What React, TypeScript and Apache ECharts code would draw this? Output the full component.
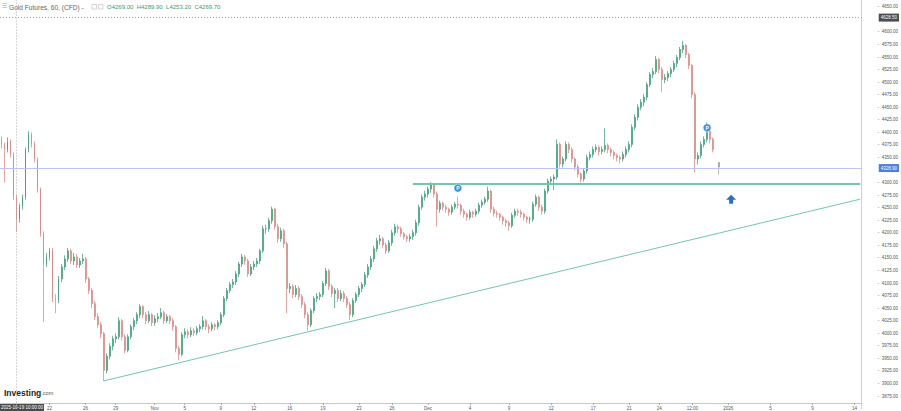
import React, { useEffect, useRef } from "react";
import * as echarts from "echarts";

// ---------- data ----------
const SLOT_COUNT = 287; // compressed trading-time slots shown on the time axis (incl. future space)

// [open, close, low, high]
const candles: number[][] = [
  [4385, 4376, 4368, 4392], [4376, 4366, 4300, 4380], [4366, 4382, 4360, 4390], [4382, 4356, 4350, 4386],
  [4356, 4271, 4265, 4360], [4271, 4227, 4202, 4276], [4227, 4253, 4220, 4258], [4253, 4271, 4246, 4276],
  [4271, 4366, 4266, 4370], [4366, 4396, 4360, 4402], [4396, 4376, 4370, 4400], [4376, 4346, 4340, 4382],
  [4346, 4287, 4280, 4350], [4287, 4198, 4192, 4290], [4198, 4138, 4022, 4203], [4138, 4152, 4132, 4160],
  [4152, 4164, 4145, 4170], [4164, 4069, 4062, 4170], [4069, 4065, 4040, 4078], [4065, 4108, 4060, 4114],
  [4108, 4132, 4102, 4138], [4132, 4148, 4126, 4155], [4148, 4164, 4142, 4170], [4164, 4144, 4138, 4168],
  [4144, 4152, 4136, 4160], [4152, 4136, 4130, 4158], [4136, 4144, 4130, 4150], [4144, 4148, 4138, 4158],
  [4148, 4108, 4100, 4152], [4108, 4085, 4078, 4112], [4085, 4059, 4050, 4090], [4059, 4033, 4026, 4064],
  [4033, 4017, 4010, 4040], [4017, 3999, 3990, 4022], [3999, 3926, 3905, 4003], [3926, 3954, 3920, 3960],
  [3954, 3974, 3948, 3980], [3974, 3989, 3966, 3995], [3989, 3993, 3980, 4000], [3993, 4025, 3988, 4032],
  [4025, 3993, 3986, 4028], [3993, 3966, 3960, 3998], [3966, 3993, 3962, 3998], [3993, 4013, 3988, 4018],
  [4013, 4025, 4006, 4030], [4025, 4037, 4018, 4042], [4037, 4053, 4030, 4058], [4053, 4037, 4030, 4056],
  [4037, 4025, 4018, 4042], [4025, 4037, 4020, 4044], [4037, 4021, 4014, 4040], [4021, 4029, 4015, 4036],
  [4029, 4033, 4022, 4040], [4033, 4041, 4028, 4050], [4041, 4025, 4018, 4045], [4025, 4033, 4020, 4038],
  [4033, 4025, 4018, 4036], [4025, 4013, 4005, 4030], [4013, 3970, 3962, 4016], [3970, 3958, 3946, 3975],
  [3958, 3997, 3954, 4002], [3997, 4003, 3990, 4010], [4003, 3997, 3990, 4008], [3997, 4005, 3992, 4012],
  [4005, 4001, 3994, 4010], [4001, 4009, 3996, 4014], [4009, 4013, 4002, 4018], [4013, 4025, 4008, 4034],
  [4025, 4013, 4006, 4028], [4013, 4009, 4000, 4018], [4009, 4017, 4004, 4022], [4017, 4013, 4006, 4020],
  [4013, 4021, 4008, 4026], [4021, 4037, 4016, 4042], [4037, 4069, 4032, 4074], [4069, 4085, 4064, 4090],
  [4085, 4097, 4080, 4102], [4097, 4102, 4090, 4108], [4102, 4118, 4096, 4124], [4118, 4138, 4112, 4142],
  [4138, 4152, 4132, 4158], [4152, 4144, 4136, 4156], [4144, 4118, 4112, 4148], [4118, 4132, 4114, 4138],
  [4132, 4138, 4126, 4144], [4138, 4144, 4132, 4150], [4144, 4164, 4138, 4168], [4164, 4208, 4160, 4214],
  [4208, 4208, 4198, 4216], [4208, 4224, 4202, 4230], [4224, 4247, 4218, 4252], [4247, 4212, 4206, 4250],
  [4212, 4188, 4180, 4218], [4188, 4204, 4182, 4210], [4204, 4178, 4170, 4208], [4178, 4089, 4040, 4182],
  [4089, 4093, 4080, 4100], [4093, 4077, 4070, 4098], [4077, 4089, 4072, 4096], [4089, 4073, 4066, 4094],
  [4073, 4057, 4050, 4078], [4057, 4037, 4030, 4062], [4037, 4017, 4005, 4042], [4017, 4045, 4012, 4050],
  [4045, 4069, 4040, 4074], [4069, 4073, 4062, 4080], [4073, 4077, 4066, 4082], [4077, 4099, 4072, 4104],
  [4099, 4124, 4094, 4130], [4124, 4093, 4086, 4128], [4093, 4079, 4072, 4098], [4079, 4085, 4050, 4090],
  [4085, 4069, 4062, 4090], [4069, 4079, 4064, 4086], [4079, 4069, 4062, 4084], [4069, 4057, 4050, 4074],
  [4057, 4037, 4026, 4062], [4037, 4065, 4032, 4070], [4065, 4077, 4060, 4082], [4077, 4089, 4072, 4094],
  [4089, 4097, 4082, 4102], [4097, 4116, 4092, 4122], [4116, 4132, 4110, 4138], [4132, 4148, 4126, 4154],
  [4148, 4168, 4142, 4174], [4168, 4184, 4162, 4190], [4184, 4188, 4176, 4196], [4188, 4176, 4170, 4192],
  [4176, 4164, 4158, 4180], [4164, 4180, 4160, 4186], [4180, 4200, 4174, 4206], [4200, 4212, 4194, 4218],
  [4212, 4208, 4200, 4216], [4208, 4198, 4192, 4212], [4198, 4192, 4186, 4202], [4192, 4188, 4182, 4196],
  [4188, 4192, 4182, 4198], [4192, 4200, 4186, 4206], [4200, 4220, 4194, 4226], [4220, 4251, 4214, 4256],
  [4251, 4271, 4246, 4276], [4271, 4277, 4264, 4284], [4277, 4287, 4270, 4292], [4287, 4295, 4280, 4301],
  [4295, 4277, 4270, 4298], [4277, 4247, 4212, 4282], [4247, 4259, 4240, 4264], [4259, 4251, 4244, 4262],
  [4251, 4247, 4240, 4256], [4247, 4241, 4234, 4250], [4241, 4251, 4236, 4256], [4251, 4257, 4246, 4262],
  [4257, 4255, 4248, 4272], [4255, 4243, 4236, 4258], [4243, 4237, 4230, 4248], [4237, 4231, 4224, 4240],
  [4231, 4241, 4226, 4246], [4241, 4237, 4230, 4244], [4237, 4243, 4232, 4248], [4243, 4255, 4238, 4260],
  [4255, 4261, 4250, 4266], [4261, 4267, 4256, 4272], [4267, 4283, 4262, 4292], [4283, 4247, 4240, 4286],
  [4247, 4239, 4232, 4252], [4239, 4237, 4230, 4244], [4237, 4231, 4224, 4240], [4231, 4224, 4216, 4234],
  [4224, 4220, 4212, 4228], [4220, 4214, 4204, 4224], [4214, 4235, 4210, 4240], [4235, 4243, 4230, 4248],
  [4243, 4241, 4234, 4248], [4241, 4237, 4230, 4246], [4237, 4231, 4224, 4240], [4231, 4227, 4220, 4234],
  [4227, 4227, 4218, 4232], [4227, 4257, 4222, 4262], [4257, 4271, 4252, 4276], [4271, 4251, 4244, 4274],
  [4251, 4243, 4236, 4256], [4243, 4283, 4238, 4288], [4283, 4303, 4278, 4308], [4303, 4307, 4296, 4312],
  [4307, 4311, 4285, 4316], [4311, 4376, 4306, 4386], [4376, 4337, 4330, 4380], [4337, 4347, 4330, 4352],
  [4347, 4376, 4342, 4382], [4376, 4366, 4358, 4380], [4366, 4347, 4340, 4370], [4347, 4331, 4324, 4350],
  [4331, 4317, 4310, 4336], [4317, 4307, 4300, 4320], [4307, 4323, 4302, 4328], [4323, 4350, 4318, 4356],
  [4350, 4356, 4344, 4362], [4356, 4366, 4350, 4372], [4366, 4370, 4360, 4376], [4370, 4362, 4354, 4374],
  [4362, 4366, 4356, 4372], [4366, 4374, 4360, 4408], [4374, 4366, 4358, 4378], [4366, 4360, 4352, 4370],
  [4360, 4354, 4346, 4364], [4354, 4350, 4342, 4358], [4350, 4347, 4338, 4354], [4347, 4356, 4342, 4362],
  [4356, 4366, 4350, 4372], [4366, 4376, 4360, 4382], [4376, 4410, 4370, 4416], [4410, 4430, 4404, 4436],
  [4430, 4450, 4424, 4456], [4450, 4460, 4444, 4466], [4460, 4470, 4452, 4476], [4470, 4495, 4464, 4500],
  [4495, 4515, 4490, 4520], [4515, 4521, 4508, 4528], [4521, 4545, 4516, 4552], [4545, 4525, 4518, 4548],
  [4525, 4505, 4480, 4530], [4505, 4509, 4498, 4516], [4509, 4517, 4502, 4522], [4517, 4525, 4510, 4530],
  [4525, 4537, 4520, 4542], [4537, 4549, 4530, 4554], [4549, 4565, 4544, 4570], [4565, 4573, 4558, 4582],
  [4573, 4555, 4548, 4576], [4555, 4533, 4526, 4558], [4533, 4475, 4468, 4536], [4475, 4347, 4320, 4480],
  [4347, 4354, 4336, 4360], [4354, 4376, 4348, 4382], [4376, 4386, 4370, 4392], [4386, 4402, 4380, 4420],
  [4402, 4386, 4378, 4406], [4386, 4366, 4360, 4390],
];
const lastCandle = [4340, 4331, 4316, 4341]; // live (gray) bar after a gap
const gapSlots = 1;

const tickLabels: [number, string][] = [
  [16, "22"], [28, "26"], [38, "29"], [51, "Nov"], [61, "5"], [73, "9"], [84, "12"],
  [96, "16"], [107, "19"], [119, "23"], [130, "26"], [142, "Dec"], [156, "4"], [169, "9"],
  [183, "12"], [197, "17"], [209, "21"], [219, "24"], [230, "12:00"], [242, "2026"],
  [256, "5"], [270, "9"], [284, "14"],
];

const priceMin = 3850;
const priceMax = 4663.54;
const priceStep = 25;

const currentPrice = 4328.9;
const crosshairPrice = 4628.5;
const crosshairSlot = 5;
const crosshairTime = "2025-10-19 10:00:00";
const hoverOHLC = { o: "4269.00", h: "4289.90", l: "4253.20", c: "4269.70" };
const supportLine: [number, number][] = [[137, 4298], [286, 4298]];
const trendLine: [number, number][] = [[34, 3905], [286, 4267]];
const pMarkers: [number, number][] = [[152, 4289], [235, 4409]];
const arrowMarker: [number, number] = [243, 4267];

// ---------- component ----------
const FONT = "'Liberation Sans', Arial, sans-serif";

export default function App() {
  const ref = useRef<HTMLDivElement>(null);
  useEffect(() => {
    document.body.style.margin = "0";
    if (!ref.current) return;
    const chart = echarts.init(ref.current, null, { renderer: "svg" });

    const labelMap = new Map<number, string>(tickLabels);
    const cats = Array.from({ length: SLOT_COUNT }, (_, i) => labelMap.get(i) ?? "");
    const showIdx = (i: number) => labelMap.has(i);

    const seriesData: any[] = candles.map((c) => c);
    for (let g = 0; g < gapSlots; g++) seriesData.push("-");
    seriesData.push({
      value: lastCandle,
      itemStyle: { color: "#9e9e9e", color0: "#9e9e9e", borderColor: "#9e9e9e", borderColor0: "#9e9e9e" },
    });

    const boxedPrices = [currentPrice, crosshairPrice];
    const teal = "#74c6aa";
    const boxLabel = (bg: string, val: number) => ({
      show: true,
      position: "end",
      distance: 17,
      formatter: () => val.toFixed(2),
      backgroundColor: bg,
      color: "#fff",
      fontSize: 4.5,
      fontFamily: FONT,
      padding: [1.5, 2],
    });

    chart.setOption({
      animation: false,
      backgroundColor: "#ffffff",
      grid: [
        { left: -1.5, right: 39, top: 0, bottom: 2.44 },
        { left: -1.5, right: 39, top: 402.3, height: 1 },
      ],
      xAxis: [
        { type: "category", gridIndex: 0, data: cats, show: false, boundaryGap: true },
        {
          type: "category",
          gridIndex: 1,
          data: cats,
          boundaryGap: true,
          axisLine: { lineStyle: { color: "#c8c8c8", width: 1 } },
          axisTick: { show: true, interval: (i: number) => showIdx(i), alignWithLabel: true, length: 2, lineStyle: { color: "#aaa" } },
          axisLabel: { interval: (i: number) => showIdx(i), fontSize: 4.5, color: "#555", margin: 3, fontFamily: FONT },
          splitLine: { show: false },
        },
      ],
      yAxis: [
        {
          type: "value",
          gridIndex: 0,
          position: "right",
          min: priceMin,
          max: priceMax,
          interval: priceStep,
          splitLine: { show: false },
          axisLine: { show: true, lineStyle: { color: "#d0d0d0" } },
          axisTick: { show: false },
          axisLabel: {
            fontSize: 4.5,
            color: "#555",
            margin: 16,
            fontFamily: FONT,
            showMinLabel: false,
            showMaxLabel: false,
            formatter: (v: number) =>
              boxedPrices.some((b) => Math.abs(b - v) < 9) ? "" : "-  " + v.toFixed(2),
          },
        },
        { type: "value", gridIndex: 1, show: false },
      ],
      series: [
        {
          type: "candlestick",
          xAxisIndex: 0,
          yAxisIndex: 0,
          data: seriesData,
          barWidth: 1.4,
          itemStyle: {
            color: "#42c28c",
            color0: "#f29c98",
            borderColor: "#3a9670",
            borderColor0: "#d6817c",
            borderWidth: 0.7,
          },
          markLine: {
            silent: true,
            symbol: "none",
            animation: false,
            label: { show: false },
            data: [
              [
                { coord: trendLine[0], lineStyle: { color: teal, width: 1, type: "solid" } },
                { coord: trendLine[1] },
              ],
              [
                { coord: supportLine[0], lineStyle: { color: teal, width: 2, type: "solid" } },
                { coord: supportLine[1] },
              ],
              {
                yAxis: currentPrice,
                lineStyle: { color: "#bcc4f3", width: 1, type: "solid" },
                label: boxLabel("#4e7fdc", currentPrice),
              },
              {
                yAxis: crosshairPrice,
                lineStyle: { color: "#9a9a9a", width: 1, type: [1, 2] },
                label: boxLabel("#4d4d4d", crosshairPrice),
              },
              {
                xAxis: crosshairSlot,
                lineStyle: { color: "#b0b0b0", width: 1, type: [1, 2] },
                label: { show: false },
              },
            ],
          },
          markPoint: {
            silent: true,
            animation: false,
            data: [
              ...pMarkers.map((p) => ({
                coord: p,
                symbol: "circle",
                symbolSize: 8,
                itemStyle: { color: "#3c8fe6", borderColor: "#ffffff", borderWidth: 0.5 },
                label: { show: true, formatter: "P", color: "#fff", fontSize: 5, fontWeight: "bold", fontFamily: FONT },
              })),
              {
                coord: arrowMarker,
                symbol: "path://M5,0 L10,5 L7,5 L7,9 L3,9 L3,5 L0,5 Z",
                symbolSize: [10, 9],
                itemStyle: { color: "#2f6dc2" },
                label: { show: false },
              },
            ],
          },
        },
      ],
      graphic: [
        {
          type: "text",
          left: 2,
          top: 3,
          style: { text: "☰", fill: "#999", font: `6px ${FONT}` },
        },
        {
          type: "text",
          x: 9,
          y: 7,
          style: { text: "Gold Futures, 60, (CFD) -", fill: "#666", font: `6.6px ${FONT}`, verticalAlign: "middle" },
        },
        { type: "rect", shape: { x: 92, y: 4.5, width: 4.5, height: 4.5 }, style: { fill: "none", stroke: "#bbb", lineWidth: 0.6 } },
        { type: "rect", shape: { x: 98.5, y: 4.5, width: 4.5, height: 4.5 }, style: { fill: "none", stroke: "#bbb", lineWidth: 0.6 } },
        {
          type: "text",
          x: 107,
          y: 7,
          style: {
            text: `O${hoverOHLC.o}  H${hoverOHLC.h}  L${hoverOHLC.l}  C${hoverOHLC.c}`,
            fill: "#3d9a6f",
            font: `6px ${FONT}`,
            verticalAlign: "middle",
          },
        },
        {
          type: "text",
          x: 4,
          y: 393,
          style: {
            text: "{a|Investing}{b|.com}",
            verticalAlign: "middle",
            rich: {
              a: { fontSize: 8.5, fontWeight: "bold", fill: "#1f1f1f", fontFamily: FONT },
              b: { fontSize: 5.5, fill: "#555", fontFamily: FONT },
            },
          },
        },
        {
          type: "group",
          left: 0,
          top: 403,
          children: [
            { type: "rect", shape: { x: 0, y: 0, width: 44, height: 8 }, style: { fill: "#4a4a4a" } },
            {
              type: "text",
              x: 22,
              y: 4,
              style: { text: crosshairTime, fill: "#fff", font: `4.5px ${FONT}`, align: "center", verticalAlign: "middle" },
            },
          ],
        },
      ],
    });
    return () => chart.dispose();
  }, []);
  return <div ref={ref} style={{ width: 901, height: 411 }} />;
}
